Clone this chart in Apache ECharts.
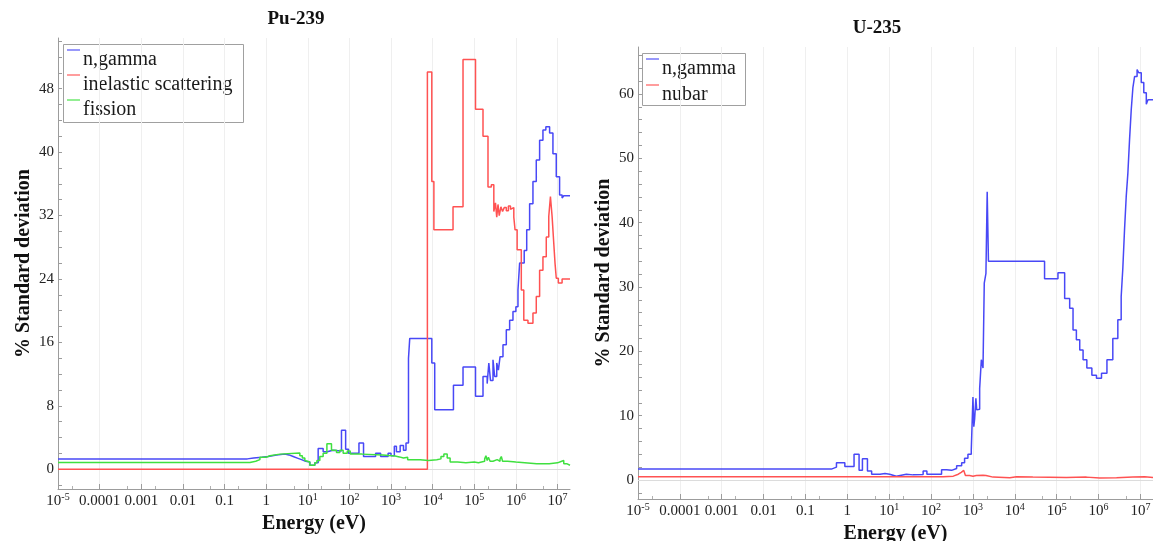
<!DOCTYPE html>
<html>
<head>
<meta charset="utf-8">
<title>Covariance uncertainties: Pu-239 and U-235</title>
<script src="https://cdn.jsdelivr.net/npm/echarts@6.0.0/dist/echarts.min.js"></script>
<style>
  html, body { margin: 0; padding: 0; background: #ffffff; }
  #chart { width: 1153px; height: 541px; }
</style>
</head>
<body>
<div id="chart"></div>
<script>
// Energies are stored as log10(E / eV); values are % standard deviation.
// Each value holds from its energy up to the next one (histogram groups).

// ---- Pu-239 ----
const puNgammaLogE = [-5, -0.45, -0.3, -0.1, 0.05, 0.15, 0.25, 0.45, 0.55, 0.65, 0.75, 0.85, 0.95, 1.05, 1.17, 1.25, 1.37, 1.47, 1.6, 1.81, 1.91, 1.98, 2.23, 2.34, 2.63, 2.75, 2.93, 3.0, 3.08, 3.13, 3.22, 3.3, 3.36, 3.42, 3.45, 3.98, 4.05, 4.5, 4.73, 5.03, 5.21, 5.31, 5.35, 5.39, 5.45, 5.49, 5.54, 5.58, 5.62, 5.69, 5.77, 5.85, 5.93, 6.0, 6.05, 6.09, 6.2, 6.26, 6.33, 6.41, 6.49, 6.57, 6.65, 6.72, 6.81, 6.89, 6.97, 7.05, 7.11, 7.15, 7.3];
const puNgammaPct  = [1.3, 1.4, 1.5, 1.6, 1.7, 1.8, 1.9, 1.8, 1.6, 1.4, 1.2, 1.0, 0.9, 0.5, 0.8, 2.6, 2.2, 2.4, 2.3, 4.9, 2.5, 2.0, 3.3, 1.6, 2.0, 1.6, 2.0, 1.7, 2.9, 2.2, 3.0, 2.4, 3.3, 14.0, 16.5, 13.4, 7.5, 10.6, 12.9, 9.2, 11.7, 10.8, 13.4, 11.2, 13.8, 11.7, 13.4, 12.5, 14.2, 15.7, 17.6, 18.8, 19.9, 20.5, 22.6, 26.0, 27.6, 30.2, 33.5, 36.3, 39.0, 41.5, 42.8, 43.2, 42.4, 39.8, 36.9, 34.6, 34.2, 34.5, 34.5];

const puInelLogE = [-5, 3.874, 3.98, 4.03, 4.49, 4.73, 5.03, 5.21, 5.33, 5.41, 5.47, 5.51, 5.54, 5.57, 5.6, 5.64, 5.68, 5.72, 5.77, 5.82, 5.87, 5.91, 5.95, 5.98, 6.03, 6.13, 6.19, 6.29, 6.41, 6.49, 6.57, 6.65, 6.73, 6.79, 6.83, 6.87, 6.91, 6.94, 6.97, 7.02, 7.11, 7.3];
const puInelPct  = [0, 50.1, 36.3, 30.2, 33.1, 51.7, 45.4, 42.0, 35.6, 35.9, 32.5, 33.6, 31.8, 33.4, 32.0, 33.1, 32.5, 33.0, 32.6, 33.2, 32.8, 33.0, 31.8, 30.2, 27.7, 22.6, 18.8, 18.4, 19.7, 21.8, 25.1, 26.8, 29.3, 31.9, 34.4, 31.9, 28.5, 26.0, 24.1, 23.5, 24.0, 24.0];

const puFissLogE = [-5, -0.39, -0.25, -0.15, 0.0, 0.09, 0.33, 0.81, 0.87, 0.93, 0.97, 1.05, 1.17, 1.22, 1.29, 1.37, 1.46, 1.57, 1.69, 1.77, 1.85, 1.95, 2.02, 2.3, 2.8, 3.1, 3.2, 3.3, 3.4, 3.7, 3.9, 4.1, 4.2, 4.27, 4.35, 4.42, 4.6, 4.8, 5.0, 5.1, 5.25, 5.28, 5.31, 5.34, 5.38, 5.45, 5.55, 5.62, 5.65, 5.68, 5.8, 6.0, 6.5, 6.8, 7.0, 7.1, 7.15, 7.22, 7.3];
const puFissPct  = [0.85, 1.0, 1.2, 1.5, 1.7, 1.9, 2.05, 1.7, 1.4, 1.1, 0.9, 0.5, 0.8, 1.1, 1.6, 2.0, 3.2, 2.4, 2.1, 2.4, 2.0, 2.3, 1.9, 1.8, 1.65, 1.55, 1.4, 1.5, 1.2, 1.1, 1.2, 1.3, 1.6, 1.9, 1.4, 0.9, 0.8, 0.9, 0.8, 1.0, 1.3, 1.7, 1.1, 1.5, 1.0, 1.2, 1.0, 1.3, 1.6, 1.0, 0.9, 0.7, 0.7, 0.8, 1.0, 1.1, 0.7, 0.5, 0.5];

// ---- U-235 ----
const uNgammaLogE = [-5, -0.38, -0.26, -0.06, 0.16, 0.28, 0.36, 0.48, 0.58, 0.78, 0.9, 1.01, 1.17, 1.41, 1.57, 1.81, 1.9, 2.25, 2.37, 2.49, 2.61, 2.73, 2.8, 2.88, 2.96, 3.0, 3.02, 3.04, 3.07, 3.09, 3.12, 3.16, 3.2, 3.24, 3.27, 3.31, 3.34, 3.37, 4.71, 5.03, 5.19, 5.31, 5.39, 5.47, 5.55, 5.63, 5.72, 5.84, 5.95, 6.07, 6.2, 6.34, 6.46, 6.54, 6.58, 6.62, 6.66, 6.7, 6.74, 6.78, 6.82, 6.86, 6.92, 6.96, 7.02, 7.08, 7.14, 7.18, 7.3];
const uNgammaPct  = [1.7, 2.0, 2.7, 2.1, 4.0, 1.5, 3.3, 1.4, 0.9, 1.0, 0.9, 0.6, 0.9, 0.8, 0.85, 1.4, 0.9, 1.6, 1.5, 1.8, 2.2, 2.7, 3.4, 4.0, 4.7, 12.9, 8.3, 9.5, 12.7, 10.9, 11.0, 14.2, 18.7, 17.4, 30.6, 32.1, 44.8, 34.0, 31.3, 32.2, 28.2, 26.7, 23.3, 21.8, 20.2, 18.7, 17.4, 16.3, 15.8, 16.6, 18.7, 22.0, 24.9, 28.5, 33.0, 38.9, 44.0, 47.7, 52.9, 57.5, 61.0, 62.7, 63.8, 63.3, 61.8, 60.2, 58.4, 59.1, 59.1];

const uNubarLogE = [-5, 2.29, 2.53, 2.65, 2.72, 2.78, 2.82, 2.92, 3.0, 3.08, 3.24, 3.31, 3.48, 3.88, 4.04, 4.43, 5.23, 5.71, 6.03, 6.43, 6.82, 7.1, 7.3];
const uNubarPct  = [0.5, 0.6, 0.9, 1.2, 1.5, 1.4, 0.7, 0.6, 0.7, 0.75, 0.7, 0.45, 0.35, 0.5, 0.45, 0.4, 0.45, 0.3, 0.35, 0.45, 0.5, 0.4, 0.4];

// ---- axis ticks ----
const decadeExponents = [-5, -4, -3, -2, -1, 0, 1, 2, 3, 4, 5, 6, 7];
const decadeLabels = [['10', '-5'], ['0.0001', ''], ['0.001', ''], ['0.01', ''], ['0.1', ''], ['1', ''],
  ['10', '1'], ['10', '2'], ['10', '3'], ['10', '4'], ['10', '5'], ['10', '6'], ['10', '7']];
const puPctLabels = [0, 8, 16, 24, 32, 40, 48];
const puPctTicks = [-2, 0, 2, 4, 6, 8, 10, 12, 14, 16, 18, 20, 22, 24, 26, 28, 30, 32, 34, 36, 38, 40, 42, 44, 46, 48, 50, 52, 54];
const uPctLabels = [0, 10, 20, 30, 40, 50, 60];
const uPctTicks = [-2, 0, 2, 4, 6, 8, 10, 12, 14, 16, 18, 20, 22, 24, 26, 28, 30, 32, 34, 36, 38, 40, 42, 44, 46, 48, 50, 52, 54, 56, 58, 60, 62, 64, 66];

// ---- legend entries ----
const puLegendNames = ['n,gamma', 'inelastic scattering', 'fission'];
const uLegendNames = ['n,gamma', 'nubar'];

// ---- styling ----
const SERIF = 'Liberation Serif';
const AXIS_GREY = '#9c9c9c';
const BLUE = '#4848f6';
const RED = '#ff5252';
const GREEN = '#3fe03f';

function pairs(xs, ys) {
  return xs.map((x, i) => [x, ys[i]]);
}

function energyAxis(gridIndex, nameGap) {
  return {
    type: 'value',
    gridIndex: gridIndex,
    min: -5,
    max: 7.3,
    name: 'Energy (eV)',
    nameLocation: 'middle',
    nameGap: nameGap,
    nameTextStyle: { fontFamily: SERIF, fontWeight: 'bold', fontSize: 20, color: '#111' },
    axisLine: { show: true, onZero: false, lineStyle: { color: AXIS_GREY, width: 1 } },
    axisTick: { show: true, inside: true, length: 5, customValues: decadeExponents,
                lineStyle: { color: AXIS_GREY } },
    minorTick: { show: true, splitNumber: 3, length: 3, lineStyle: { color: '#b0b0b0' } },
    axisLabel: {
      customValues: decadeExponents,
      margin: 3,
      formatter: function (v) {
        const lab = decadeLabels[Math.round(v) + 5];
        return lab[1] ? '{b|' + lab[0] + '}{s|' + lab[1] + '}' : '{b|' + lab[0] + '}';
      },
      rich: {
        b: { fontFamily: SERIF, fontSize: 15, color: '#222', lineHeight: 18 },
        s: { fontFamily: SERIF, fontSize: 10, color: '#222', lineHeight: 11, verticalAlign: 'top' }
      }
    },
    splitLine: { show: true, lineStyle: { color: '#efefef', width: 1 } }
  };
}

function pctAxis(gridIndex, min, max, labels, ticks) {
  return {
    type: 'value',
    gridIndex: gridIndex,
    min: min,
    max: max,
    name: '% Standard deviation',
    nameLocation: 'middle',
    nameGap: 24,
    nameRotate: 90,
    nameTextStyle: { fontFamily: SERIF, fontWeight: 'bold', fontSize: 20, color: '#111' },
    axisLine: { show: true, onZero: false, lineStyle: { color: AXIS_GREY, width: 1 } },
    axisTick: { show: true, inside: true, length: 4, customValues: ticks,
                lineStyle: { color: AXIS_GREY } },
    axisLabel: { customValues: labels, margin: 4, fontFamily: SERIF, fontSize: 15, color: '#222' },
    splitLine: { show: false }
  };
}

function stepSeries(name, color, xs, ys, axisIndex, withZeroLine) {
  const s = {
    name: name,
    type: 'line',
    step: 'end',
    xAxisIndex: axisIndex,
    yAxisIndex: axisIndex,
    data: pairs(xs, ys),
    symbol: 'none',
    showSymbol: false,
    silent: true,
    color: color,
    lineStyle: { color: color, width: 1.5 }
  };
  if (withZeroLine) {
    s.markLine = {
      silent: true,
      z: 1,
      symbol: 'none',
      label: { show: false },
      lineStyle: { color: '#dcdcdc', width: 1, type: 'solid' },
      data: [{ yAxis: 0 }]
    };
  }
  return s;
}

// Framed key: a short coloured stroke sits above and left of each entry's text.
function keyBox(names, colors, x, y, w, h, rowStep) {
  const children = [{
    type: 'rect', shape: { x: x + 0.5, y: y + 0.5, width: w, height: h },
    style: { fill: '#ffffff', stroke: '#a0a0a0', lineWidth: 1 }
  }];
  names.forEach((name, i) => {
    const top = y + 6 + i * rowStep;
    children.push({
      type: 'line', shape: { x1: x + 4, y1: top, x2: x + 17, y2: top },
      style: { stroke: colors[i], lineWidth: 1.5, opacity: 0.75 }
    });
    children.push({
      type: 'text', x: x + 20, y: top + 10,
      style: { text: name, fontFamily: SERIF, fontSize: 20, fill: '#1a1a1a',
               verticalAlign: 'middle', align: 'left' }
    });
  });
  return { type: 'group', z: 10, silent: true, children: children };
}

const chart = echarts.init(document.getElementById('chart'), null, { renderer: 'canvas' });

chart.setOption({
  animation: false,
  backgroundColor: '#ffffff',
  title: [
    { text: 'Pu-239', left: 296, top: 10, textAlign: 'center', padding: 0,
      textStyle: { fontFamily: SERIF, fontWeight: 'bold', fontSize: 19, color: '#111' } },
    { text: 'U-235', left: 877, top: 19, textAlign: 'center', padding: 0,
      textStyle: { fontFamily: SERIF, fontWeight: 'bold', fontSize: 19, color: '#111' } }
  ],
  grid: [
    { left: 58, top: 38, width: 512, height: 451, containLabel: false, outerBoundsMode: 'none' },
    { left: 638, top: 47, width: 515, height: 452, containLabel: false, outerBoundsMode: 'none' }
  ],
  xAxis: [energyAxis(0, 21), energyAxis(1, 19)],
  yAxis: [
    pctAxis(0, -2.5, 54.4, puPctLabels, puPctTicks),
    pctAxis(1, -2.95, 67.3, uPctLabels, uPctTicks)
  ],
  graphic: [
    keyBox(puLegendNames, [BLUE, RED, GREEN], 63, 44, 180, 78, 25),
    keyBox(uLegendNames, [BLUE, RED], 642, 53, 103, 52, 26)
  ],
  series: [
    stepSeries('n,gamma', BLUE, puNgammaLogE, puNgammaPct, 0, true),
    stepSeries('inelastic scattering', RED, puInelLogE, puInelPct, 0, false),
    stepSeries('fission', GREEN, puFissLogE, puFissPct, 0, false),
    stepSeries('n,gamma', BLUE, uNgammaLogE, uNgammaPct, 1, true),
    stepSeries('nubar', RED, uNubarLogE, uNubarPct, 1, false)
  ]
});
</script>
</body>
</html>
